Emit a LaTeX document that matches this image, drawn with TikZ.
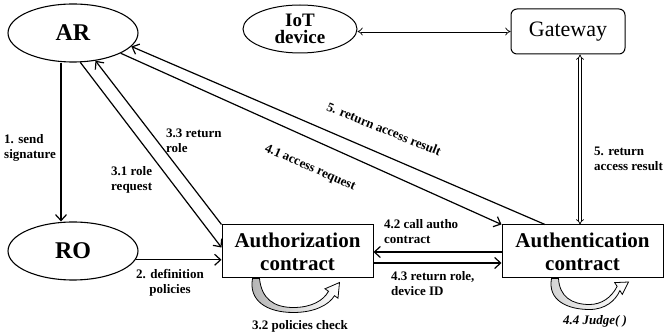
\documentclass[tikz,border=0pt]{standalone}
\usepackage{fontspec}
\setmainfont{Liberation Serif}
\usetikzlibrary{shapes.geometric,arrows.meta}

\begin{document}
\begin{tikzpicture}[x=1pt,y=-1pt,
  every node/.style={inner sep=0pt},
  party/.style={ellipse, draw, line width=1.1pt, minimum width=130pt, minimum height=58pt,
    font=\fontsize{24}{26}\selectfont\bfseries},
  contract/.style={rectangle, draw, line width=1pt, align=center, minimum height=53pt,
    font=\fontsize{21}{23}\selectfont\bfseries},
  lbl/.style={font=\fontsize{13}{15}\selectfont\bfseries, align=left},
  flow/.style={line width=1.2pt, -{Straight Barb[length=6pt,width=11pt,line width=1.2pt]}},
  link/.style={double, double distance=2pt, line width=0.7pt, {Implies}-{Implies}},
  selfcheck/.style={draw=black, line width=0.8pt, left color=gray!60, right color=white}
]
\useasboundingbox (0,0) rectangle (664,336);

% participants and contracts
\node[party] (ar) at (73,33) {AR};
\node[party] (ro) at (73,251) {RO};
\node[ellipse, draw, line width=1pt, minimum width=114pt, minimum height=48pt, align=center,
  font=\fontsize{19}{17}\selectfont\bfseries] (iot) at (300,29) {IoT\\device};
\node[rectangle, rounded corners=6pt, draw, line width=1pt, minimum width=114pt, minimum height=45pt,
  font=\fontsize{22}{24}\selectfont] (gw) at (568,31.5) {Gateway};
\node[contract, minimum width=151pt] (authz) at (297.5,251.5) {Authorization\\contract};
\node[contract, minimum width=161pt] (authn) at (582.5,251.5) {Authentication\\contract};

% message flows
\draw[flow] ([xshift=-12pt]ar.south) -- ([xshift=-12pt]ro.north);
\draw[flow] (ro.-8) -- (ro.-8 -| authz.west);
\draw[flow] (ar.-76) -- ([yshift=4pt]authz.west);
\draw[flow] (authz.north west) -- (ar.-51);
\draw[flow] (ar.-23) -- (authn.north west);
\draw[flow] ([xshift=-37.5pt]authn.north) -- (ar.-13);
\draw[flow] ([yshift=-0.5pt]authn.west) -- ([yshift=-0.5pt]authz.east);
\draw[flow] ([yshift=-11.5pt]authz.east) -- ([yshift=-11.5pt]authn.west);

% device links
\coordinate (iotport) at ([yshift=-2.5pt]iot.east);
\draw[link] (iotport) -- (iotport -| gw.west);
\draw[link] ([xshift=12pt]gw.south) -- ([xshift=12pt]gw.south |- authn.north);

% internal checks
\begin{scope}[shift={(authz.south west)}]
  \draw[selfcheck] (31,0) .. controls (27,22) and (45,34) .. (72,34)
    .. controls (92,34) and (107,27) .. (113,17.2) -- (116.5,19.7) -- (118,4)
    -- (103.5,10.3) -- (107,12.8) .. controls (102,22) and (90,29) .. (72,29)
    .. controls (52,29) and (40,20) .. (38,0) -- cycle;
\end{scope}
\begin{scope}[shift={(authn.south west)}]
  \draw[selfcheck, left color=gray!35] (50,0) .. controls (46,22) and (66,31) .. (88,31)
    .. controls (104,31) and (114,22) .. (118.4,12.1) -- (120.8,15.9) -- (127,3.5)
    -- (113.2,4.1) -- (115.6,7.9) .. controls (110,19) and (100,26) .. (88,26)
    .. controls (70,26) and (58,18) .. (57,0) -- cycle;
\end{scope}

% labels
\node[lbl, anchor=north west] (l1) at (4,134) {1. send\\signature};
\node[lbl, anchor=north west] (l33) at (166,129) {3.3 return\\role};
\node[lbl, anchor=north west] (l31) at (111,166) {3.1 role\\request};
\node[lbl, align=center] (l2) at (170,283) {2. definition\\policies};
\node[lbl, anchor=north west] (l42) at (384,219) {4.2 call autho\\contract};
\node[lbl, anchor=north west] (l43) at (391,271) {4.3 return role,\\device ID};
\node[lbl, anchor=north west] (l5b) at (594,147) {5. return\\access result};
\node[lbl, rotate=-22] (l5a) at (384,129) {5. return access result};
\node[lbl, rotate=-23.5] (l41) at (310,168) {4.1 access request};
\node[lbl] (l32) at (300,326) {3.2 policies check};
\node[lbl, font=\fontsize{13}{15}\selectfont\bfseries\itshape] (l44) at (595,321) {4.4 Judge( )};
\end{tikzpicture}
\end{document}
